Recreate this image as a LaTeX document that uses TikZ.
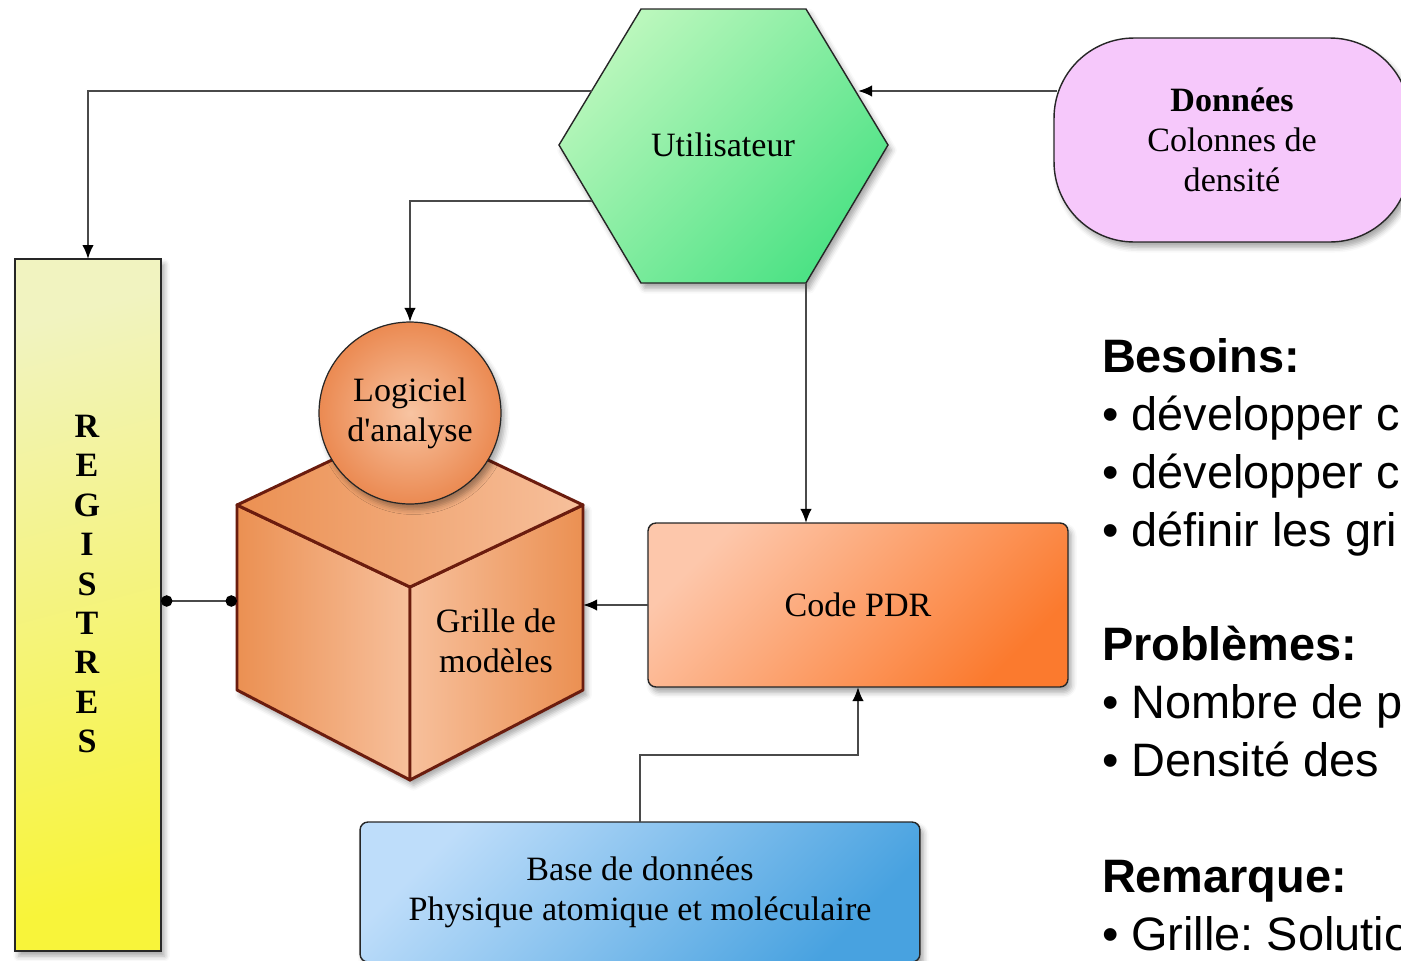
\documentclass[tikz,border=0pt]{standalone}
\usepackage{fontspec}
\setmainfont{Liberation Serif}[Ligatures=TeXOff]
\newfontfamily\notesfont{Liberation Sans}
\usepackage{tikz}
\usetikzlibrary{arrows.meta,shadows.blur}
\frenchspacing

\definecolor{hexlight}{HTML}{BAF7BC}
\definecolor{hexdark}{HTML}{4DE285}
\definecolor{datapink}{HTML}{F6C8FB}
\definecolor{reglight}{HTML}{F1F3C0}
\definecolor{regdark}{HTML}{F8F43A}
\definecolor{cubeline}{HTML}{6B1C0E}
\definecolor{cubedark}{HTML}{EB9052}
\definecolor{cubelight}{HTML}{F7C09C}
\definecolor{circlight}{HTML}{F8C4A2}
\definecolor{circdark}{HTML}{EB8A52}
\definecolor{pdrlight}{HTML}{FDC7AB}
\definecolor{pdrdark}{HTML}{FB7A2E}
\definecolor{baselight}{HTML}{BEDDFA}
\definecolor{basedark}{HTML}{48A2E0}
\definecolor{wire}{HTML}{4A4A4A}

\begin{document}
\begin{tikzpicture}[x=0.02cm, y=-0.02cm,
    every node/.style={font=\fontsize{19.4}{22.8}\selectfont,
        inner sep=0pt, outer sep=0pt},
    shadowed/.style={blur shadow={shadow xshift=2pt, shadow yshift=-3pt,
        shadow blur radius=3pt, shadow opacity=35}},
    flow/.style={draw=wire, line width=1.1pt,
        -{Latex[length=8pt, width=6.5pt, color=black]}},
    dotlink/.style={draw=wire, line width=1.1pt,
        {Circle[length=6.5pt, color=black]}-{Circle[length=6.5pt, color=black]}},
    cubeface/.style={draw=cubeline, line width=1.7pt, line join=round},
    roundbox/.style={draw=black!85, line width=0.8pt, rounded corners=4.5pt,
        shadowed, align=center},
    notes/.style={font=\notesfont\fontsize{26.7}{33}\selectfont, anchor=base west},
    heading/.style={notes, font=\notesfont\bfseries\fontsize{26.7}{33}\selectfont}
]
\useasboundingbox (0,0) rectangle (1401,961);
\clip (0,0) rectangle (1401,961);

% Utilisateur
\coordinate (hUL) at (641,9);
\coordinate (hUR) at (806,9);
\coordinate (hR)  at (888,145);
\coordinate (hLR) at (806,283);
\coordinate (hLL) at (641,283);
\coordinate (hL)  at (559,145);
\shade[draw=black!85, line width=0.8pt, top color=hexlight, bottom color=hexdark,
    shading angle=45, shadowed]
    (hUL) -- (hUR) -- (hR) -- (hLR) -- (hLL) -- (hL) -- cycle;
\node (user) at (723,145) {Utilisateur};

% Donnees
\node[draw=black!85, line width=0.8pt, fill=datapink, rounded corners=1.6cm,
    minimum width=7.12cm, minimum height=4.08cm, align=center, shadowed]
    (data) at (1232,140) {\textbf{Données}\\Colonnes de\\densité};

% Registres
\node[draw=black!85, line width=0.8pt, top color=reglight, bottom color=regdark,
    shading angle=15, minimum width=2.92cm, minimum height=13.84cm, shadowed]
    (registres) at (88,605) {};
\node[font=\bfseries\fontsize{19.4}{22.45}\selectfont, align=center]
    (reglbl) at (87,584) {R\\E\\G\\I\\S\\T\\R\\E\\S};

% Grille de modeles
\coordinate (cL)  at (237,505);
\coordinate (cB)  at (410,423);
\coordinate (cR)  at (583,505);
\coordinate (cF)  at (410,587);
\coordinate (cLB) at (237,690);
\coordinate (cFB) at (410,780);
\coordinate (cRB) at (583,690);
\fill[white, shadowed] (cL) -- (cB) -- (cR) -- (cRB) -- (cFB) -- (cLB) -- cycle;
\shade[cubeface, left color=cubedark, right color=cubelight]
    (cL) -- (cF) -- (cFB) -- (cLB) -- cycle;
\shade[cubeface, left color=cubelight, right color=cubedark]
    (cF) -- (cR) -- (cRB) -- (cFB) -- cycle;
\shade[cubeface, left color=cubedark, right color=cubelight]
    (cL) -- (cB) -- (cR) -- (cF) -- cycle;
\node[align=center] (grille) at (496,641) {Grille de\\modèles};

% Logiciel d'analyse
\node[circle, draw=black!85, line width=0.7pt, minimum size=3.64cm,
    inner color=circlight, outer color=circdark, align=center, shadowed]
    (logiciel) at (410,413) {Logiciel\\d'analyse};

% Code PDR
\node[roundbox, top color=pdrlight, bottom color=pdrdark, shading angle=45,
    minimum width=8.4cm, minimum height=3.28cm]
    (pdr) at (858,605) {Code PDR};

% Base de donnees
\node[roundbox, top color=baselight, bottom color=basedark, shading angle=45,
    minimum width=11.2cm, minimum height=2.8cm]
    (base) at (640,892) {Base de données\\Physique atomique et moléculaire};

% connecteurs
\coordinate (datain)   at (1057,91);
\coordinate (userin)   at (858,91);
\coordinate (userout1) at (592,91);
\coordinate (userout2) at (592,201);
\draw[flow] (datain) -- (userin);
\draw[flow] (userout1) -| (registres.north);
\draw[flow] (userout2) -| (logiciel.north);
\draw[flow] (hLR) -- (hLR |- pdr.north);
\draw[flow] (pdr.west) -- (pdr.west -| cR);
\draw[flow] (base.north) -- ++(0,-67) -| (pdr.south);
\draw[dotlink] (registres.east |- 0,601) -- (cL |- 0,601);

% notes
\node[heading] (besoins)   at (1102,372) {Besoins:};
\node[notes]   (bes1)      at (1102,430) {• développer c};
\node[notes]   (bes2)      at (1102,488) {• développer c};
\node[notes]   (bes3)      at (1102,546) {• définir les gri};
\node[heading] (problemes) at (1102,660) {Problèmes:};
\node[notes]   (prob1)     at (1102,718) {• Nombre de p};
\node[notes]   (prob2)     at (1102,776) {• Densité des};
\node[heading] (remarque)  at (1102,892) {Remarque:};
\node[notes]   (rem1)      at (1102,950) {• Grille: Solutio};
\end{tikzpicture}
\end{document}
